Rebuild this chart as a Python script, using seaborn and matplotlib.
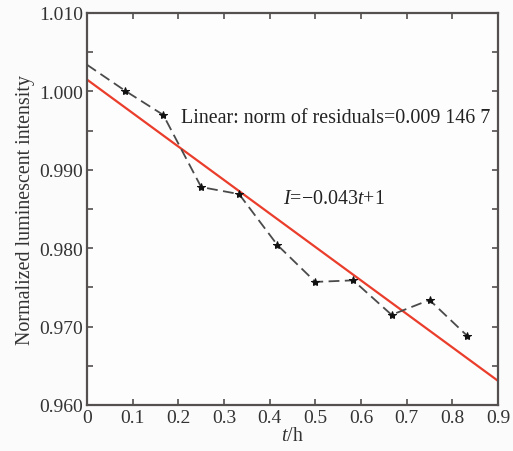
import numpy as np
import pandas as pd
import seaborn as sns
import matplotlib
matplotlib.use("Agg")
import matplotlib.pyplot as plt
from matplotlib.ticker import MultipleLocator, FixedFormatter, FixedLocator

# Measured luminescent intensity (normalized) over time
t_hours = [0.0, 0.083, 0.167, 0.250, 0.333, 0.417, 0.500, 0.583, 0.667, 0.750, 0.833]
intensity = [1.0034, 1.0001, 0.9970, 0.9878, 0.9869, 0.9804, 0.9757, 0.9759, 0.9715, 0.9734, 0.9688]

x_ticks = [0, 0.1, 0.2, 0.3, 0.4, 0.5, 0.6, 0.7, 0.8, 0.9]
x_tick_labels = ["0", "0.1", "0.2", "0.3", "0.4", "0.5", "0.6", "0.7", "0.8", "0.9"]
y_ticks = [0.960, 0.970, 0.980, 0.990, 1.000, 1.010]
y_tick_labels = ["0.960", "0.970", "0.980", "0.990", "1.000", "1.010"]

fit_text = "Linear: norm of residuals=0.009 146 7"
eq_text = r"$\mathit{I}$=$-$0.043$\mathit{t}$+1"

sns.set_theme(style="ticks")
plt.rcParams["font.family"] = ["Liberation Serif", "DejaVu Serif"]
plt.rcParams["mathtext.fontset"] = "custom"
plt.rcParams["mathtext.it"] = "Liberation Serif:italic"
plt.rcParams["mathtext.rm"] = "Liberation Serif"

df = pd.DataFrame({"t": t_hours, "I": intensity})

fig = plt.figure(figsize=(5.13, 4.52), dpi=100, facecolor="#fbfbfb")
ax = fig.add_axes([87 / 513, 46 / 452, 411 / 513, 392 / 452])
ax.set_facecolor("#fdfdfd")

# Linear least-squares fit over the full time axis
slope, intercept = np.polyfit(t_hours, intensity, 1)
fit_t = np.array([x_ticks[0], x_ticks[-1]])
fit_df = pd.DataFrame({"t": fit_t, "I": slope * fit_t + intercept})
sns.lineplot(data=fit_df, x="t", y="I", ax=ax, color="#ea3d2b", linewidth=1.6,
             zorder=2)

# Measured points joined by a dashed line
sns.lineplot(data=df, x="t", y="I", ax=ax, color="#4a4a4a", linewidth=1.3,
             dashes=False, zorder=3)
ax.lines[-1].set_dashes([6, 3])
ax.lines[-1].set_marker("*")
ax.lines[-1].set_markersize(6)
ax.lines[-1].set_markerfacecolor("#111111")
ax.lines[-1].set_markeredgecolor("#111111")
ax.lines[-1].set_markevery(list(range(1, len(t_hours))))

ax.set_xlim(0, 0.9)
ax.set_ylim(0.960, 1.010)
ax.xaxis.set_major_locator(FixedLocator(x_ticks))
ax.xaxis.set_major_formatter(FixedFormatter(x_tick_labels))
ax.yaxis.set_major_locator(FixedLocator(y_ticks))
ax.yaxis.set_major_formatter(FixedFormatter(y_tick_labels))
ax.yaxis.set_minor_locator(MultipleLocator(0.005))

for side in ["left", "right", "top", "bottom"]:
    ax.spines[side].set_visible(True)
    ax.spines[side].set_color("#555050")
    ax.spines[side].set_linewidth(1.6)

ax.tick_params(axis="both", which="both", direction="in", top=True, right=True,
               length=4, width=1.2, color="#555050", labelsize=14,
               labelcolor="#333333", pad=3)
ax.tick_params(axis="y", which="minor", length=4)

ax.set_xlabel(r"$\mathit{t}$/h", fontsize=14.4, color="#333333", labelpad=0)
ax.set_ylabel("Normalized luminescent intensity", fontsize=14.4, color="#333333",
              labelpad=3)

ax.text(0.205, 0.9967, fit_text, fontsize=14.4, color="#222222", va="center")
ax.text(0.43, 0.9864, eq_text, fontsize=14.4, color="#222222", va="center")

fig.savefig("out.png", dpi=100, facecolor=fig.get_facecolor())
